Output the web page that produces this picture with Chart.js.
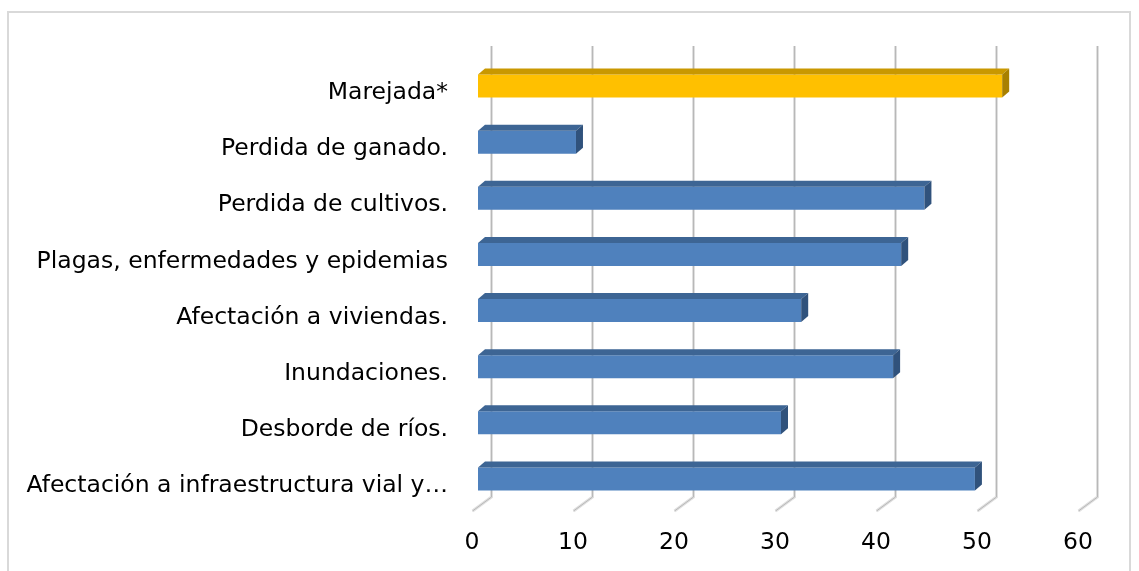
<!DOCTYPE html>
<html>
<head>
<meta charset="utf-8">
<script src="https://cdn.jsdelivr.net/npm/chart.js@4"></script>
<style>
  html,body{margin:0;padding:0;background:#fff;}
  #wrap{position:relative;width:1139px;height:571px;overflow:hidden;}
  #frame{position:absolute;left:7px;top:11px;width:1124px;height:580px;border:2px solid #d9d9d9;box-sizing:border-box;}
  canvas{position:absolute;left:0;top:0;}
</style>
</head>
<body>
<div id="wrap">
  <div id="frame"></div>
  <canvas id="c" width="1139" height="571"></canvas>
</div>
<script>
/* ── Datos ── */
const categorias = [
  'Marejada*',
  'Perdida de ganado.',
  'Perdida de cultivos.',
  'Plagas, enfermedades y epidemias',
  'Afectación a viviendas.',
  'Inundaciones.',
  'Desborde de ríos.',
  'Afectación a infraestructura vial y…'
];
const valores = [51.9, 9.7, 44.2, 41.9, 32.0, 41.1, 30.0, 49.2];
const ticksX  = [0, 10, 20, 30, 40, 50, 60];

/* colores: cara frontal / superior / lateral */
const FRONT = ['#FFC000','#4F81BD','#4F81BD','#4F81BD','#4F81BD','#4F81BD','#4F81BD','#4F81BD'];
const TOP   = ['#C99800','#3D6594','#3D6594','#3D6594','#3D6594','#3D6594','#3D6594','#3D6594'];
const SIDE  = ['#A88000','#30527C','#30527C','#30527C','#30527C','#30527C','#30527C','#30527C'];

const DX = 7, DY = 6;          // profundidad de la barra
const WALL = 13;               // desplazamiento de la pared del fondo
const FLOOR_DX = 19, FLOOR_DY = 14;

/* ── Plugin 3D ── */
const bars3d = {
  id:'bars3d',
  beforeDatasetsDraw(chart){
    const {ctx, scales:{x}, chartArea} = chart;
    const top = 46, bottom = chartArea.bottom - 10;
    ctx.save();
    ticksX.forEach(v=>{
      const gx = Math.round(x.getPixelForValue(v) + WALL) + 0.5;
      const path = ()=>{ ctx.beginPath(); ctx.moveTo(gx, top); ctx.lineTo(gx, bottom); ctx.lineTo(gx-FLOOR_DX, bottom+FLOOR_DY); };
      ctx.lineJoin='miter';
      path(); ctx.strokeStyle='#e0e0e0'; ctx.lineWidth=3; ctx.stroke();
      path(); ctx.strokeStyle='#b8b8b8'; ctx.lineWidth=1; ctx.stroke();
    });
    ctx.restore();
  },
  afterDatasetsDraw(chart){
    const {ctx} = chart;
    const meta = chart.getDatasetMeta(0);
    ctx.save();
    meta.data.forEach((bar,i)=>{
      const x0 = bar.base, x1 = bar.x;
      const t = bar.y - bar.height/2, b = bar.y + bar.height/2;
      // cara superior
      ctx.beginPath();
      ctx.moveTo(x0, t); ctx.lineTo(x0+DX, t-DY); ctx.lineTo(x1+DX, t-DY); ctx.lineTo(x1, t); ctx.closePath();
      ctx.fillStyle = TOP[i]; ctx.fill();
      // cara lateral
      ctx.beginPath();
      ctx.moveTo(x1, t); ctx.lineTo(x1+DX, t-DY); ctx.lineTo(x1+DX, b-DY); ctx.lineTo(x1, b); ctx.closePath();
      ctx.fillStyle = SIDE[i]; ctx.fill();
    });
    ctx.restore();
  }
};

const FONT = { family:'"DejaVu Sans", Verdana, sans-serif', size:23.5 };

new Chart(document.getElementById('c'), {
  type:'bar',
  data:{
    labels:categorias,
    datasets:[{ data:valores, backgroundColor:FRONT, borderWidth:0, categoryPercentage:1, barPercentage:0.41 }]
  },
  options:{
    indexAxis:'y',
    responsive:false,
    animation:false,
    devicePixelRatio:1,
    layout:{ padding:{ top:58, right:55, bottom:0, left:0 } },
    plugins:{ legend:{display:false}, tooltip:{enabled:false} },
    scales:{
      x:{
        min:0, max:60,
        afterFit(s){ s.height = 64; },
        afterBuildTicks(s){ s.ticks = ticksX.map(v=>({value:v})); },
        grid:{ display:false, drawTicks:false },
        border:{ display:false },
        ticks:{ color:'#000', font:FONT, padding:22, labelOffset:-6, maxRotation:0 }
      },
      y:{
        afterFit(s){ s.width = 478; },
        grid:{ display:false, drawTicks:false },
        border:{ display:false },
        ticks:{ color:'#000', font:FONT, padding:30, labelOffset:7, autoSkip:false }
      }
    }
  },
  plugins:[bars3d]
});
</script>
</body>
</html>
